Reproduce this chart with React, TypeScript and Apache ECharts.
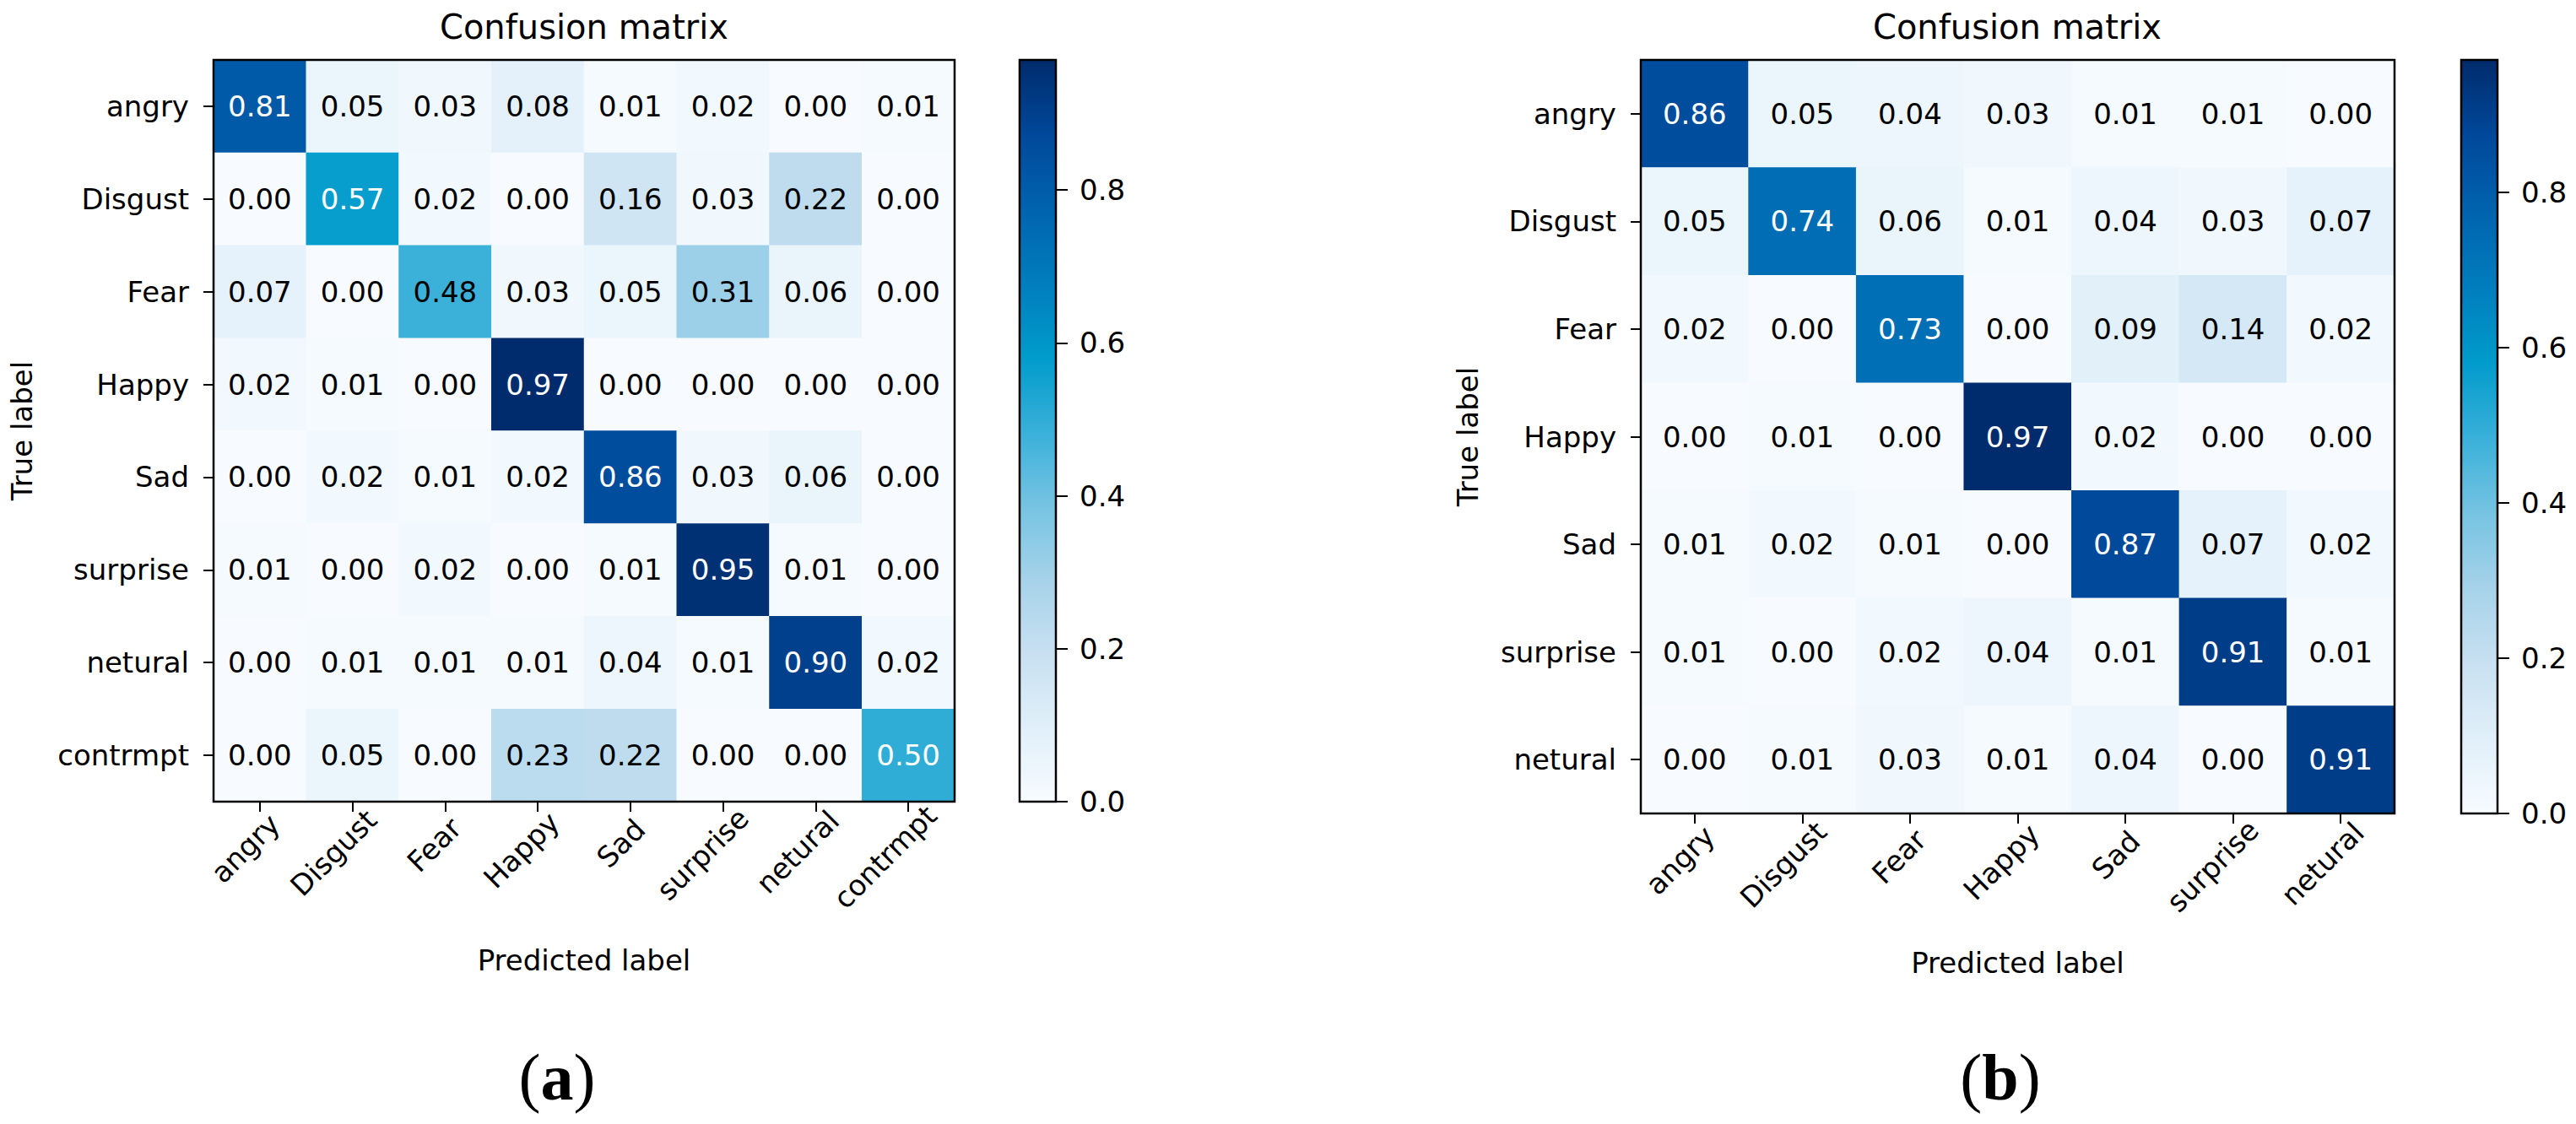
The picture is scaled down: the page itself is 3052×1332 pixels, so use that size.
import React, { useEffect, useRef } from 'react';
import * as echarts from 'echarts';

// ---------- data ----------
const labelsA = ['angry', 'Disgust', 'Fear', 'Happy', 'Sad', 'surprise', 'netural', 'contrmpt'];
const matrixA = [
  [0.81, 0.05, 0.03, 0.08, 0.01, 0.02, 0.00, 0.01],
  [0.00, 0.57, 0.02, 0.00, 0.16, 0.03, 0.22, 0.00],
  [0.07, 0.00, 0.48, 0.03, 0.05, 0.31, 0.06, 0.00],
  [0.02, 0.01, 0.00, 0.97, 0.00, 0.00, 0.00, 0.00],
  [0.00, 0.02, 0.01, 0.02, 0.86, 0.03, 0.06, 0.00],
  [0.01, 0.00, 0.02, 0.00, 0.01, 0.95, 0.01, 0.00],
  [0.00, 0.01, 0.01, 0.01, 0.04, 0.01, 0.90, 0.02],
  [0.00, 0.05, 0.00, 0.23, 0.22, 0.00, 0.00, 0.50],
];
const labelsB = ['angry', 'Disgust', 'Fear', 'Happy', 'Sad', 'surprise', 'netural'];
const matrixB = [
  [0.86, 0.05, 0.04, 0.03, 0.01, 0.01, 0.00],
  [0.05, 0.74, 0.06, 0.01, 0.04, 0.03, 0.07],
  [0.02, 0.00, 0.73, 0.00, 0.09, 0.14, 0.02],
  [0.00, 0.01, 0.00, 0.97, 0.02, 0.00, 0.00],
  [0.01, 0.02, 0.01, 0.00, 0.87, 0.07, 0.02],
  [0.01, 0.00, 0.02, 0.04, 0.01, 0.91, 0.01],
  [0.00, 0.01, 0.03, 0.01, 0.04, 0.00, 0.91],
];
const colorbarTicks = [0, 0.2, 0.4, 0.6, 0.8];
const titleText = 'Confusion matrix';
const xName = 'Predicted label';
const yName = 'True label';
const panelLetters = ['a', 'b'];

// ---------- style ----------
const BLUES = [
  '#f7fbff', '#e0eff9', '#c8e0f1', '#a5d2e9', '#75c3e2', '#38b0d9',
  '#009bcb', '#007dbd', '#0063ae', '#00489a', '#002b6c',
];
const FONT = '"DejaVu Sans", sans-serif';
const FS = 34;

const PANELS = [
  { grid: { left: 253, top: 71, width: 878, height: 879 }, cbarLeft: 1208, xGap: 171, yGap: 210, titleX: 692, letterX: 660 },
  { grid: { left: 1944, top: 71, width: 893, height: 893 }, cbarLeft: 2916, xGap: 160, yGap: 188, titleX: 2390, letterX: 2370 },
];

function measure(text: string): number {
  const ctx = document.createElement('canvas').getContext('2d');
  if (!ctx) return text.length * FS * 0.6;
  ctx.font = `${FS}px "DejaVu Sans"`;
  return ctx.measureText(text).width;
}

function cells(matrix: number[][]) {
  const max = Math.max(...matrix.flat());
  const out: any[] = [];
  matrix.forEach((row, i) =>
    row.forEach((v, j) =>
      out.push({ value: [j, i, v], label: { color: v > max / 2 ? '#ffffff' : '#000000' } })
    )
  );
  return out;
}

function buildOption() {
  const sets = [
    { labels: labelsA, matrix: matrixA },
    { labels: labelsB, matrix: matrixB },
  ];
  const grids: any[] = [];
  const xAxes: any[] = [];
  const yAxes: any[] = [];
  const series: any[] = [];
  const visualMaps: any[] = [];
  const titles: any[] = [];
  const graphics: any[] = [];
  const tickStyle = { color: '#000', width: 2 };
  const labelStyle = { fontSize: FS, fontFamily: FONT, color: '#000' };

  sets.forEach((s, k) => {
    const p = PANELS[k];
    const max = Math.max(...s.matrix.flat());
    const gi = grids.length;
    grids.push({
      ...p.grid, show: true, z: 10, borderColor: '#000', borderWidth: 2.5,
      backgroundColor: 'rgba(0,0,0,0)', containLabel: false, outerBoundsMode: 'none',
    });
    grids.push({
      left: p.cbarLeft, top: p.grid.top, width: 43, height: p.grid.height,
      show: true, z: 10, borderColor: '#000', borderWidth: 2.5,
      backgroundColor: 'rgba(0,0,0,0)', containLabel: false, outerBoundsMode: 'none',
    });

    xAxes.push({
      type: 'category', gridIndex: gi, position: 'bottom',
      data: s.labels.map((l) => {
        const L = measure(l);
        return {
          value: l,
          textStyle: {
            ...labelStyle,
            align: 'center', verticalAlign: 'middle',
            padding: [0.5 * L, 0.5 * L, 0, 0],
          },
        };
      }),
      axisLine: { show: false },
      axisTick: { show: true, alignWithLabel: true, length: 12, lineStyle: tickStyle },
      axisLabel: { ...labelStyle, interval: 0, rotate: 45, align: 'center', verticalAlign: 'middle', margin: 38 },
      splitLine: { show: false }, splitArea: { show: false },
      name: xName, nameLocation: 'middle', nameGap: p.xGap, nameMoveOverlap: false,
      nameTextStyle: labelStyle,
    });
    xAxes.push({ type: 'category', gridIndex: gi + 1, data: [''], show: false });

    yAxes.push({
      type: 'category', gridIndex: gi, inverse: true, data: s.labels,
      axisLine: { show: false },
      axisTick: { show: true, alignWithLabel: true, length: 12, lineStyle: tickStyle },
      axisLabel: { ...labelStyle, interval: 0, margin: 29 },
      splitLine: { show: false }, splitArea: { show: false },
      name: yName, nameLocation: 'middle', nameGap: p.yGap, nameRotate: 90, nameMoveOverlap: false,
      nameTextStyle: labelStyle,
    });
    yAxes.push({
      type: 'value', gridIndex: gi + 1, position: 'right', min: 0, max,
      axisLine: { show: false }, splitLine: { show: false },
      axisTick: { show: true, length: 14, lineStyle: tickStyle, customValues: colorbarTicks },
      axisLabel: { ...labelStyle, margin: 28, customValues: colorbarTicks, formatter: (v: number) => v.toFixed(1) },
    });

    const hi = series.length;
    series.push({
      type: 'heatmap', xAxisIndex: gi, yAxisIndex: gi, data: cells(s.matrix),
      label: { show: true, fontSize: FS, fontFamily: FONT, formatter: (q: any) => q.value[2].toFixed(2) },
      itemStyle: { borderWidth: 0 },
      emphasis: { disabled: true },
      silent: true,
    });
    series.push({
      type: 'bar', xAxisIndex: gi + 1, yAxisIndex: gi + 1, data: [max], barWidth: '100%', silent: true,
      itemStyle: {
        color: new echarts.graphic.LinearGradient(0, 0, 0, 1,
          BLUES.map((c, i) => ({ offset: 1 - i / (BLUES.length - 1), color: c })).reverse()),
      },
    });
    visualMaps.push({
      type: 'continuous', seriesIndex: hi, min: 0, max, dimension: 2, show: false,
      inRange: { color: BLUES },
    });

    titles.push({
      text: titleText, left: p.titleX, top: 12, textAlign: 'center', padding: 0,
      textStyle: { fontSize: 40, fontWeight: 'normal', fontFamily: FONT, color: '#000' },
    });
    graphics.push({
      type: 'text', x: p.letterX, y: 1276,
      style: {
        text: `{p|(}{b|${panelLetters[k]}}{p|)}`,
        align: 'center', verticalAlign: 'middle',
        rich: {
          p: { fontFamily: '"Liberation Serif", serif', fontSize: 78, fill: '#000', fontWeight: 'normal' },
          b: { fontFamily: '"Liberation Serif", serif', fontSize: 78, fill: '#000', fontWeight: 'bold' },
        },
      },
    });
  });

  return {
    animation: false,
    backgroundColor: '#ffffff',
    title: titles,
    grid: grids,
    xAxis: xAxes,
    yAxis: yAxes,
    visualMap: visualMaps,
    series,
    graphic: graphics,
  };
}

export default function App() {
  const ref = useRef<HTMLDivElement>(null);
  useEffect(() => {
    if (!ref.current) return;
    const chart = echarts.init(ref.current, undefined, { renderer: 'svg' });
    chart.setOption(buildOption() as any);
    return () => chart.dispose();
  }, []);
  return (
    <div
      ref={ref}
      style={{ position: 'fixed', left: 0, top: 0, width: 3052, height: 1332, background: '#fff' }}
    />
  );
}
